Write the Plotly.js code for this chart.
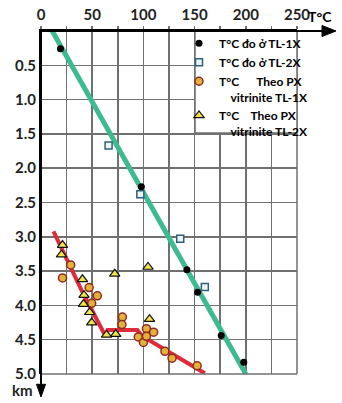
<!DOCTYPE html>
<html>
<head>
<meta charset="utf-8">
<script src="https://cdn.plot.ly/plotly-3.0.1.min.js"></script>
<style>
html,body{margin:0;padding:0;background:#fff;}
#chart{width:342px;height:403px;}
</style>
</head>
<body>
<div id="chart"></div>
<script>
// Measured temperature, well TL-1X
const tempTL1X  = [19, 98, 142.5, 153, 176, 198];
const depthTL1X = [0.26, 2.27, 3.48, 3.81, 4.44, 4.83];
// Measured temperature, well TL-2X
const tempTL2X  = [66, 97, 136, 160];
const depthTL2X = [1.67, 2.38, 3.03, 3.73];
// Temperature from vitrinite reflectance, TL-1X
const tempVitTL1X  = [29, 21, 47, 55, 49.5, 79.5, 79, 95, 100, 103, 103, 110, 121, 128, 152.5];
const depthVitTL1X = [3.41, 3.60, 3.74, 3.86, 3.97, 4.17, 4.28, 4.46, 4.54, 4.34, 4.45, 4.39, 4.67, 4.77, 4.88];
// Temperature from vitrinite reflectance, TL-2X
const tempVitTL2X  = [21, 20, 40.5, 42, 41.5, 47.5, 49.5, 64, 73, 72, 104.5, 106];
const depthVitTL2X = [3.12, 3.26, 3.62, 3.85, 3.98, 4.10, 4.25, 4.43, 4.42, 3.54, 3.44, 4.20];
// Trend lines
const greenTemp  = [11, 200];
const greenDepth = [0, 5.0];
const redTemp  = [12.2, 40, 63, 65, 94, 99, 160];
const redDepth = [2.92, 3.79, 4.45, 4.36, 4.36, 4.45, 4.99];
// Tick labels (grid every 25 °C, labels every 50 °C)
const xTickVals = [0, 25, 50, 75, 100, 125, 150, 175, 200, 225, 250];
const xTickText = ['0', '', '50', '', '100', '', '150', '', '200', '', '250'];
const yTickVals = [0.5, 1.0, 1.5, 2.0, 2.5, 3.0, 3.5, 4.0, 4.5, 5.0];
const yTickText = ['0.5', '1.0', '1.5', '2.0', '2.5', '3.0', '3.5', '4.0', '4.5', '5.0'];

const NB = '\u00a0';
const FONT = 'Lato, "Open Sans", sans-serif';
const GRID = '#707070';
const GW = 1.5;

const traces = [
  {x: greenTemp, y: greenDepth, mode: 'lines', line: {color: '#3dbb8e', width: 5}, showlegend: false, hoverinfo: 'skip'},
  {x: redTemp, y: redDepth, mode: 'lines', line: {color: '#de2b3c', width: 4}, showlegend: false, hoverinfo: 'skip'},
  {x: tempTL1X, y: depthTL1X, mode: 'markers', name: 'T°C đo ở TL-1X',
   marker: {symbol: 'circle', size: 7, color: '#000'}},
  {x: tempTL2X, y: depthTL2X, mode: 'markers', name: 'T°C đo ở TL-2X',
   marker: {symbol: 'square', size: 7, color: '#eef4f4', line: {color: '#2f5f7c', width: 1.5}}},
  {x: tempVitTL1X, y: depthVitTL1X, mode: 'markers',
   name: 'T°C' + NB.repeat(6) + 'Theo PX<br>' + NB.repeat(4) + 'vitrinite TL-1X',
   marker: {symbol: 'circle', size: 8, color: '#e4b23a', line: {color: '#8e2b22', width: 1.5}}},
  {x: tempVitTL2X, y: depthVitTL2X, mode: 'markers',
   name: 'T°C' + NB.repeat(4) + 'Theo PX<br>' + NB.repeat(4) + 'vitrinite TL-2X',
   marker: {symbol: 'triangle-up', size: 9, color: '#f2e44a', line: {color: '#111', width: 1.2}}}
];

const layout = {
  width: 342, height: 403,
  margin: {l: 41, r: 45, t: 31, b: 29, pad: 0},
  font: {family: FONT, color: '#000'},
  showlegend: true,
  legend: {
    x: (179 - 41) / 256, y: 1.006, xanchor: 'left', yanchor: 'top',
    bgcolor: 'rgba(0,0,0,0)', borderwidth: 0,
    font: {family: FONT, size: 12, color: '#000', weight: 'bold'},
    valign: 'top', itemwidth: 30, tracegroupgap: 0
  },
  xaxis: {
    side: 'top', range: [0, 250], tickmode: 'array', tickvals: xTickVals, ticktext: xTickText,
    showgrid: true, gridcolor: GRID, gridwidth: GW,
    ticks: 'outside', ticklen: 3, tickcolor: GRID, tickwidth: GW,
    showline: true, linecolor: '#000', linewidth: 2,
    zeroline: false,
    tickfont: {family: FONT, size: 15, color: '#222', weight: 'bold'}
  },
  yaxis: {
    range: [5, 0], tickmode: 'array', tickvals: yTickVals, ticktext: yTickText,
    showgrid: true, gridcolor: GRID, gridwidth: GW,
    ticks: '', showline: true, linecolor: '#000', linewidth: 2,
    zeroline: false,
    tickfont: {family: FONT, size: 15, color: '#222', weight: 'bold'}
  },
  shapes: [
    {type: 'line', xref: 'paper', yref: 'paper', x0: 1, x1: 1, y0: 0, y1: 1, line: {color: GRID, width: GW}},
    {type: 'line', xref: 'paper', yref: 'paper', x0: 0, x1: 1, y0: 0, y1: 0, line: {color: GRID, width: GW}},
    {type: 'rect', xref: 'paper', yref: 'paper', layer: 'above',
     x0: (195 - 41) / 256, x1: 1, y0: (374 - 133) / 343, y1: 1,
     fillcolor: '#fff', line: {color: GRID, width: GW}},
    // axis lines extended with arrowheads
    {type: 'line', xref: 'paper', yref: 'paper', layer: 'above', x0: 0, x1: 1.11, y0: 1, y1: 1, line: {color: '#000', width: 2}},
    {type: 'path', xref: 'paper', yref: 'paper', layer: 'above',
     path: 'M 1.1523 1 L 1.0977 1.0160 L 1.0977 0.9840 Z', fillcolor: '#000', line: {color: '#000', width: 1}},
    {type: 'line', xref: 'paper', yref: 'paper', layer: 'above', x0: 0, x1: 0, y0: 1, y1: -0.04, line: {color: '#000', width: 2}},
    {type: 'path', xref: 'paper', yref: 'paper', layer: 'above',
     path: 'M 0 -0.0671 L -0.0176 -0.0300 L 0.0176 -0.0300 Z', fillcolor: '#000', line: {color: '#000', width: 1}}
  ],
  annotations: [
    {xref: 'paper', yref: 'paper', x: (320 - 41) / 256, y: 1 + (31 - 16) / 343, xanchor: 'center', yanchor: 'middle',
     text: 'T°C', showarrow: false, font: {family: FONT, size: 14, color: '#000', weight: 'bold'}},
    {xref: 'paper', yref: 'paper', x: (22 - 41) / 256, y: -(390 - 374) / 343, xanchor: 'center', yanchor: 'middle',
     text: 'km', showarrow: false, font: {family: FONT, size: 15, color: '#222', weight: 'bold'}}
  ]
};

Plotly.newPlot('chart', traces, layout, {staticPlot: true, displayModeBar: false});
</script>
</body>
</html>
